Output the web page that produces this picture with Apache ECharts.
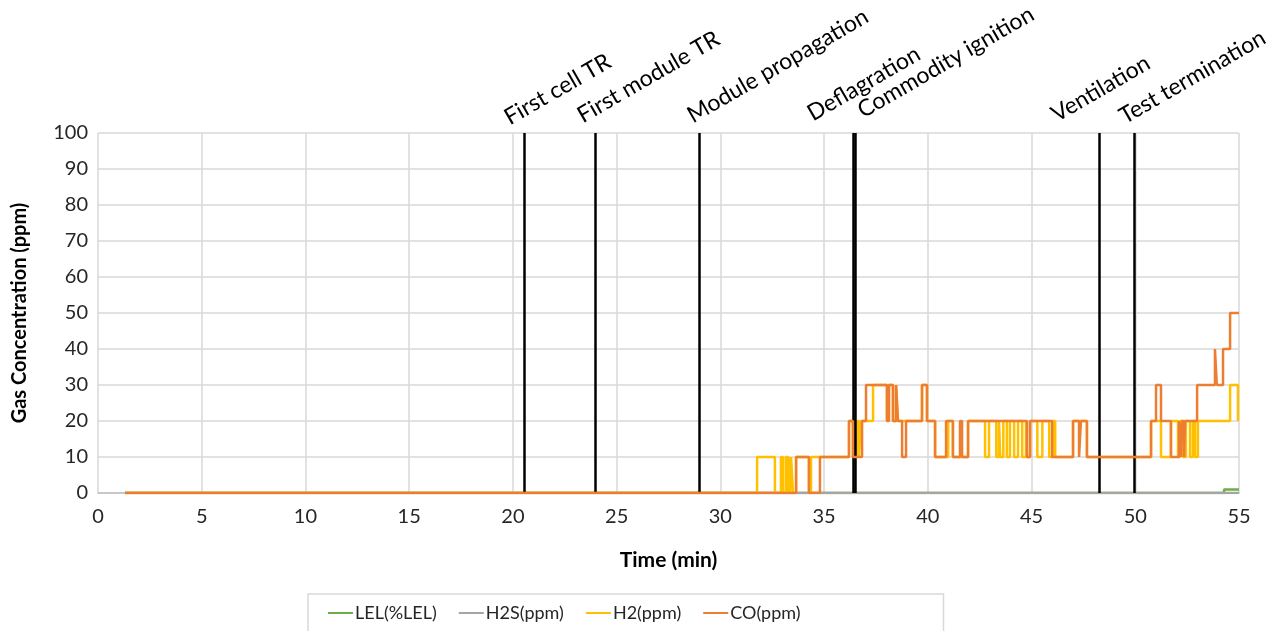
<!DOCTYPE html>
<html><head><meta charset="utf-8">
<script src="https://cdn.jsdelivr.net/npm/echarts@6/dist/echarts.min.js"></script>
<style>html,body{margin:0;padding:0;background:#fff}#c{width:1285px;height:631px}</style>
</head><body><div id="c"></div><script>
// ---- data (time in minutes, values step-held until next time) ----
const seriesNames = ['LEL(%LEL)', 'H2S(ppm)', 'H2(ppm)', 'CO(ppm)'];

const lelTimes  = [1.30, 54.28, 55.0];
const lelValues = [0, 1, 1];

const h2sTimes  = [1.30, 55.0];
const h2sValues = [0, 0];

const h2Times = [1.30, 31.77, 32.63, 32.92, 33.02, 33.16, 33.26, 33.31, 33.36, 33.41, 33.50, 33.65, 34.27, 34.37,
  36.20, 36.39, 36.58, 36.68, 36.77, 37.36, 38.03, 38.08, 38.32, 38.47, 38.56, 39.72, 39.96, 40.35, 40.98, 41.21, 41.94,
  42.76, 42.95, 43.30, 43.43, 43.49, 43.64, 43.81, 43.96, 44.16, 44.35, 44.55, 44.73, 44.78, 44.93, 45.28, 45.52,
  45.85, 46.03, 46.14, 47.00, 47.67, 50.76, 51.24, 51.72, 52.06, 52.16, 52.30, 52.44, 52.64, 52.78, 52.88, 53.02, 53.21,
  54.57, 54.95];
const h2Values = [0, 10, 0, 10, 0, 10, 0, 10, 0, 10, 0, 10, 0, 10,
  20, 10, 20, 10, 20, 30, 20, 30, 20, 30, 20, 30, 20, 10, 20, 10, 20,
  10, 20, 10, 20, 10, 20, 10, 20, 10, 20, 10, 20, 10, 20, 10, 20,
  10, 20, 10, 20, 10, 20, 10, 20, 10, 20, 10, 20, 10, 20, 10, 20, 20,
  30, 20];

const coTimes = [1.30, 33.65, 34.27, 34.80, 36.20, 36.39, 36.83, 37.02, 38.03, 38.13, 38.32, 38.47, 38.56, 38.76, 38.95,
  39.72, 39.96, 40.35, 40.88, 41.21, 41.55, 41.65, 41.94, 44.78, 44.93, 45.99, 47.00, 47.29, 47.38, 47.67,
  50.76, 51.00, 51.24, 51.72, 52.11, 52.20, 52.25, 52.35, 52.40, 52.98, 53.84, 53.93, 54.23, 54.57, 55.0];
const coValues = [0, 10, 0, 10, 20, 10, 20, 30, 20, 30, 20, 30, 20, 10, 20,
  30, 20, 10, 20, 10, 20, 10, 20, 10, 20, 10, 20, 10, 20, 10,
  20, 30, 20, 10, 20, 10, 20, 10, 20, 30, 40, 30, 40, 50, 50];

const eventNames = ['First cell TR', 'First module TR', 'Module propagation', 'Deflagration', 'Commodity ignition', 'Ventilation', 'Test termination'];
const eventTimes = [20.54, 23.96, 28.97, 36.40, 36.50, 48.25, 49.94];

const xTickMin = 0, xTickMax = 55, xTickStep = 5;
const yTickMin = 0, yTickMax = 100, yTickStep = 10;

// ---- layout / style (not data) ----
const colors = ['#70ad47', '#a5a5a5', '#ffc000', '#ed7d31'];
const labelDx = [-14, -12, -6, -40, 8, -42, -9];
const labelBaseY = [125, 123, 123, 121, 118, 122, 124];
const FONT = 'Lato, "Open Sans", sans-serif';

function zip(t, v) { return t.map((x, i) => [x, v[i]]); }

const chart = echarts.init(document.getElementById('c'), null, { renderer: 'canvas' });
const dataSets = [zip(lelTimes, lelValues), zip(h2sTimes, h2sValues), zip(h2Times, h2Values), zip(coTimes, coValues)];

const series = seriesNames.map((n, i) => ({
  name: n, type: 'line', step: 'end', showSymbol: false, symbol: 'none',
  data: dataSets[i], lineStyle: { width: 2.5, color: colors[i] }, itemStyle: { color: colors[i] },
  animation: false, z: 2 + i
}));
series[3].markLine = {
  silent: true, symbol: 'none', animation: false,
  lineStyle: { color: '#000', width: 2.5, type: 'solid' },
  label: { show: false },
  data: eventTimes.map(t => ({ xAxis: t }))
};

chart.setOption({
  animation: false,
  textStyle: { fontFamily: FONT },
  grid: { left: 98, right: 46, top: 133, bottom: 138, containLabel: false },
  xAxis: {
    type: 'value', min: xTickMin, max: xTickMax, interval: xTickStep,
    name: 'Time (min)', nameLocation: 'middle', nameGap: 57,
    nameTextStyle: { fontFamily: FONT, fontSize: 21, fontWeight: 'bold', color: '#000' },
    axisLine: { show: true, lineStyle: { color: '#bfbfbf', width: 1.5 } },
    axisTick: { show: false },
    axisLabel: { fontFamily: FONT, fontSize: 20, color: '#262626', margin: 14 },
    splitLine: { show: true, lineStyle: { color: '#d9d9d9', width: 1.5 } }
  },
  yAxis: {
    type: 'value', min: yTickMin, max: yTickMax, interval: yTickStep,
    name: 'Gas Concentration (ppm)', nameLocation: 'middle', nameGap: 68, nameRotate: 90,
    nameTextStyle: { fontFamily: FONT, fontSize: 20, fontWeight: 'bold', color: '#000' },
    axisLine: { show: false }, axisTick: { show: false },
    axisLabel: { fontFamily: FONT, fontSize: 20, color: '#262626', margin: 10 },
    splitLine: { show: true, lineStyle: { color: '#d9d9d9', width: 1.5 } }
  },
  legend: {
    data: seriesNames, left: 308, top: 594, orient: 'horizontal',
    padding: [10, 143, 20, 20], itemGap: 22, itemWidth: 25, itemHeight: 10,
    borderColor: '#d9d9d9', borderWidth: 1.5,
    icon: 'path://M0,4 L25,4 L25,6 L0,6 Z',
    textStyle: { fontFamily: FONT, fontSize: 18, color: '#262626', padding: [0, 0, 0, -3] }
  },
  series: series
});

const graphics = eventNames.map((n, i) => {
  const px = chart.convertToPixel({ xAxisIndex: 0 }, eventTimes[i]);
  return {
    type: 'text', x: px + labelDx[i] + 2, y: labelBaseY[i] + 4, rotation: Math.PI / 6, silent: true,
    style: { text: n, fill: '#000', font: '23px ' + FONT, textAlign: 'left', textVerticalAlign: 'bottom' }
  };
});
chart.setOption({ graphic: graphics });
</script></body></html>
